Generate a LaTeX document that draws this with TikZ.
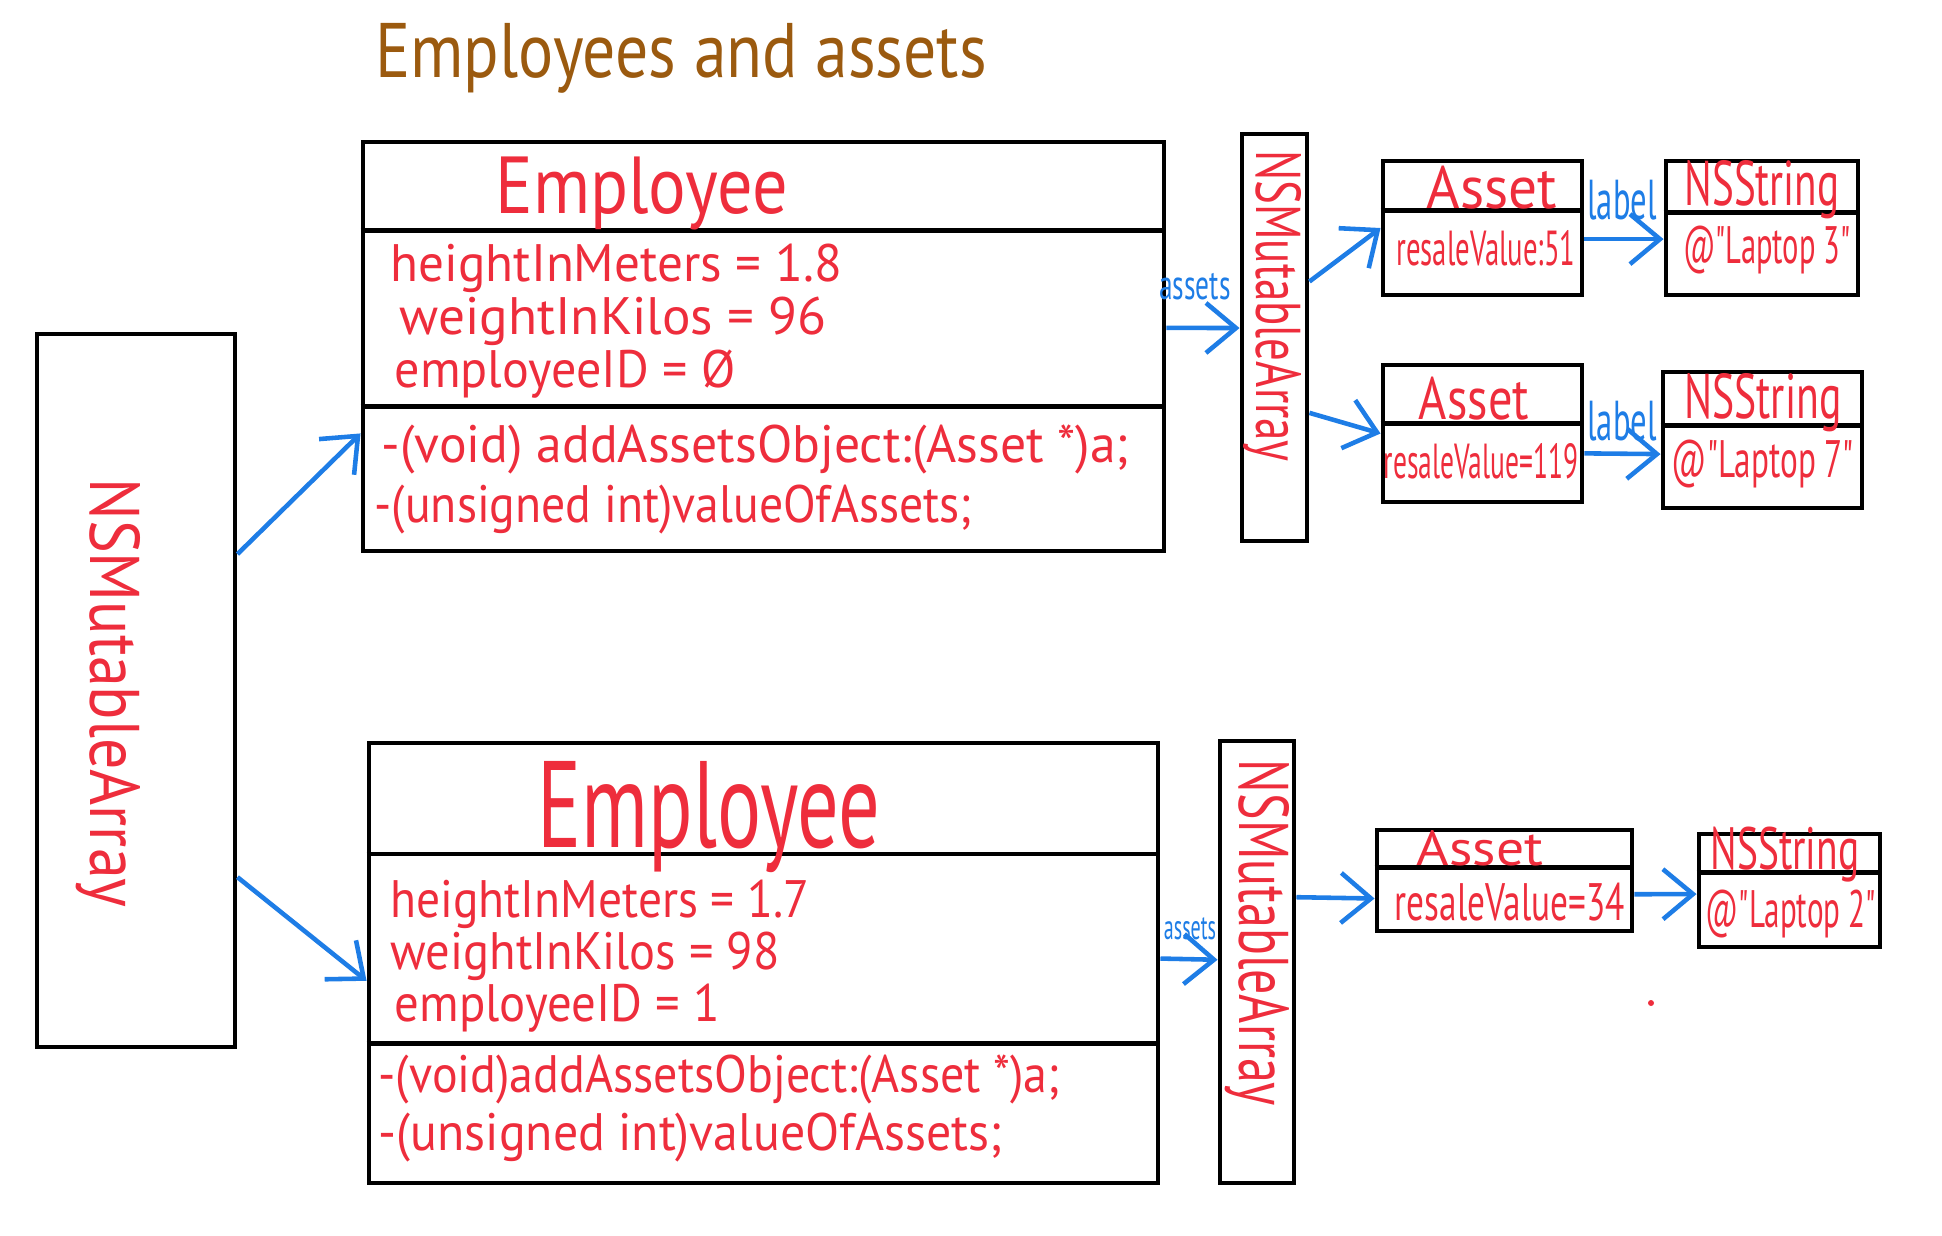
\documentclass[tikz,border=0pt]{standalone}
\usepackage{fontspec}
\usepackage{graphicx}
\newfontfamily\hand{PT Sans}
\usetikzlibrary{arrows.meta,calc}
\definecolor{hred}{RGB}{238,45,60}
\definecolor{hblue}{RGB}{30,125,230}
\definecolor{hbrown}{RGB}{155,90,15}
\newcommand{\fs}[1]{\fontsize{#1}{#1}\selectfont}
\newcommand{\sx}[2]{\scalebox{#1}[1]{#2}}

\begin{document}
\begin{tikzpicture}[
    box/.style={draw, line width=1.4pt, inner sep=0pt},
    divider/.style={line width=1.4pt},
    rtext/.style={text=hred, font=\hand, inner sep=0pt},
    btext/.style={text=hblue, font=\hand, inner sep=0pt},
    arr/.style={draw=hblue, line width=1.3pt, -{Straight Barb[length=3mm,width=5mm]}}
]
            \useasboundingbox (0,0) rectangle (19.42,-12.35);

            % Titel
            \node[font=\hand, text=hbrown, inner sep=0pt] (title) at (6.81,-0.58) {\fs{22}\sx{0.85}{Employees and assets}};

            % Vakken
            \node[box, minimum width=1.98cm, minimum height=7.13cm] (arr0) at (1.36,-6.905) {};
            \node[box, minimum width=8.01cm, minimum height=4.09cm] (emp1) at (7.635,-3.465) {};
            \node[box, minimum width=7.89cm, minimum height=4.40cm] (emp2) at (7.635,-9.63) {};
            \node[box, minimum width=0.65cm, minimum height=4.07cm] (arr1) at (12.745,-3.375) {};
            \node[box, minimum width=0.74cm, minimum height=4.42cm] (arr2) at (12.57,-9.62) {};
            \node[box, minimum width=1.99cm, minimum height=1.34cm] (ast1) at (14.825,-2.28) {};
            \node[box, minimum width=1.92cm, minimum height=1.34cm] (str1) at (17.62,-2.28) {};
            \node[box, minimum width=1.99cm, minimum height=1.37cm] (ast2) at (14.825,-4.335) {};
            \node[box, minimum width=1.99cm, minimum height=1.36cm] (str2) at (17.625,-4.40) {};
            \node[box, minimum width=2.55cm, minimum height=1.01cm] (ast3) at (15.045,-8.805) {};
            \node[box, minimum width=1.81cm, minimum height=1.13cm] (str3) at (17.895,-8.905) {};

            % Scheidingslijnen
            \foreach \n/\f in {emp1/0.22, emp1/0.645, emp2/0.255, emp2/0.68, ast1/0.373, str1/0.388,
                               ast2/0.43, str2/0.40, ast3/0.376, str3/0.345}
                \draw[divider] ($(\n.north west)!\f!(\n.south west)$) -- ($(\n.north east)!\f!(\n.south east)$);

            % Arrays
            \node[rtext, rotate=-90] (arr0txt) at (1.08,-6.93) {\fs{20}\sx{0.88}{NSMutableArray}};
            \node[rtext, rotate=-90] (arr1txt) at (12.73,-3.06) {\fs{18}\sx{0.71}{NSMutableArray}};
            \node[rtext, rotate=-90] (arr2txt) at (12.57,-9.33) {\fs{20}\sx{0.71}{NSMutableArray}};

            % Employee 1
            \node[rtext] (emp1name) at (6.42,-1.93) {\fs{23}\sx{0.87}{Employee}};
            \node[rtext, anchor=west] (emp1a) at (3.90,-2.68) {\fs{15}\sx{0.97}{heightInMeters = 1.8}};
            \node[rtext, anchor=west] (emp1b) at (3.99,-3.21) {\fs{15}\sx{1.01}{weightInKilos = 96}};
            \node[rtext, anchor=west] (emp1c) at (3.94,-3.74) {\fs{15}\sx{0.95}{employeeID = Ø}};
            \node[rtext, anchor=west] (emp1m) at (3.81,-4.49) {\fs{15}\sx{0.98}{-(void) addAssetsObject:(Asset *)a;}};
            \node[rtext, anchor=west] (emp1n) at (3.74,-5.10) {\fs{15}\sx{0.905}{-(unsigned int)valueOfAssets;}};

            % Employee 2
            \node[rtext] (emp2name) at (7.09,-8.17) {\fs{35}\sx{0.67}{Employee}};
            \node[rtext, anchor=west] (emp2a) at (3.90,-9.04) {\fs{15}\sx{0.90}{heightInMeters = 1.7}};
            \node[rtext, anchor=west] (emp2b) at (3.90,-9.56) {\fs{15}\sx{0.92}{weightInKilos = 98}};
            \node[rtext, anchor=west] (emp2c) at (3.94,-10.08) {\fs{15}\sx{0.925}{employeeID = 1}};
            \node[rtext, anchor=west] (emp2m) at (3.78,-10.79) {\fs{15}\sx{0.91}{-(void)addAssetsObject:(Asset *)a;}};
            \node[rtext, anchor=west] (emp2n) at (3.78,-11.38) {\fs{15}\sx{0.945}{-(unsigned int)valueOfAssets;}};

            % Assets en strings
            \node[rtext] (ast1name) at (14.92,-1.88) {\fs{17}\sx{0.96}{Asset}};
            \node[rtext] (ast1val) at (14.86,-2.48) {\fs{14}\sx{0.585}{resaleValue:51}};
            \node[rtext] (str1name) at (17.62,-1.90) {\fs{18}\sx{0.65}{NSString}};
            \node[rtext] (str1val) at (17.67,-2.50) {\fs{15}\sx{0.58}{@"Laptop 3"}};
            \node[rtext] (ast2name) at (14.74,-3.99) {\fs{17}\sx{0.81}{Asset}};
            \node[rtext] (ast2val) at (14.81,-4.61) {\fs{14}\sx{0.56}{resaleValue=119}};
            \node[rtext] (str2name) at (17.63,-4.03) {\fs{18}\sx{0.66}{NSString}};
            \node[rtext] (str2val) at (17.63,-4.64) {\fs{15}\sx{0.63}{@"Laptop 7"}};
            \node[rtext] (ast3name) at (14.80,-8.48) {\fs{14}\sx{1.13}{Asset}};
            \node[rtext] (ast3val) at (15.10,-9.02) {\fs{15}\sx{0.67}{resaleValue=34}};
            \node[rtext] (str3name) at (17.85,-8.55) {\fs{17}\sx{0.66}{NSString}};
            \node[rtext] (str3val) at (17.91,-9.14) {\fs{15}\sx{0.59}{@"Laptop 2"}};

            % Pijlen
            \draw[arr] ($(arr0.north east)!0.31!(arr0.south east)$) -- ($(emp1.north west)!0.71!(emp1.south west)$);
            \draw[arr] ($(arr0.north east)!0.76!(arr0.south east)$) -- ($(emp2.north west)!0.54!(emp2.south west)$);
            \draw[arr] ($(emp1.north east)!0.455!(emp1.south east)$) -- ($(arr1.north west)!0.477!(arr1.south west)$);
            \draw[arr] ($(emp2.north east)!0.49!(emp2.south east)$) -- ($(arr2.north west)!0.495!(arr2.south west)$);
            \draw[arr] ($(arr1.north east)!0.364!(arr1.south east)$) -- (ast1.west);
            \draw[arr] ($(arr1.north east)!0.683!(arr1.south east)$) -- (ast2.west);
            \draw[arr] ($(ast1.north east)!0.58!(ast1.south east)$) -- ($(str1.north west)!0.58!(str1.south west)$);
            \draw[arr] ($(ast2.north east)!0.64!(ast2.south east)$) -- ($(str2.north west)!0.60!(str2.south west)$);
            \draw[arr] ($(arr2.north east)!0.355!(arr2.south east)$) -- ($(ast3.north west)!0.67!(ast3.south west)$);
            \draw[arr] ($(ast3.north east)!0.63!(ast3.south east)$) -- ($(str3.north west)!0.53!(str3.south west)$);

            % Labels bij pijlen
            \node[btext] (assets1) at (11.95,-2.87) {\fs{12}\sx{0.65}{assets}};
            \node[btext] (assets2) at (11.90,-9.29) {\fs{10}\sx{0.57}{assets}};
            \node[btext] (label1) at (16.22,-2.00) {\fs{16}\sx{0.58}{label}};
            \node[btext] (label2) at (16.22,-4.21) {\fs{16}\sx{0.58}{label}};

            % Stipje
            \fill[hred] (16.51,-10.03) circle (0.03);
\end{tikzpicture}
\end{document}
